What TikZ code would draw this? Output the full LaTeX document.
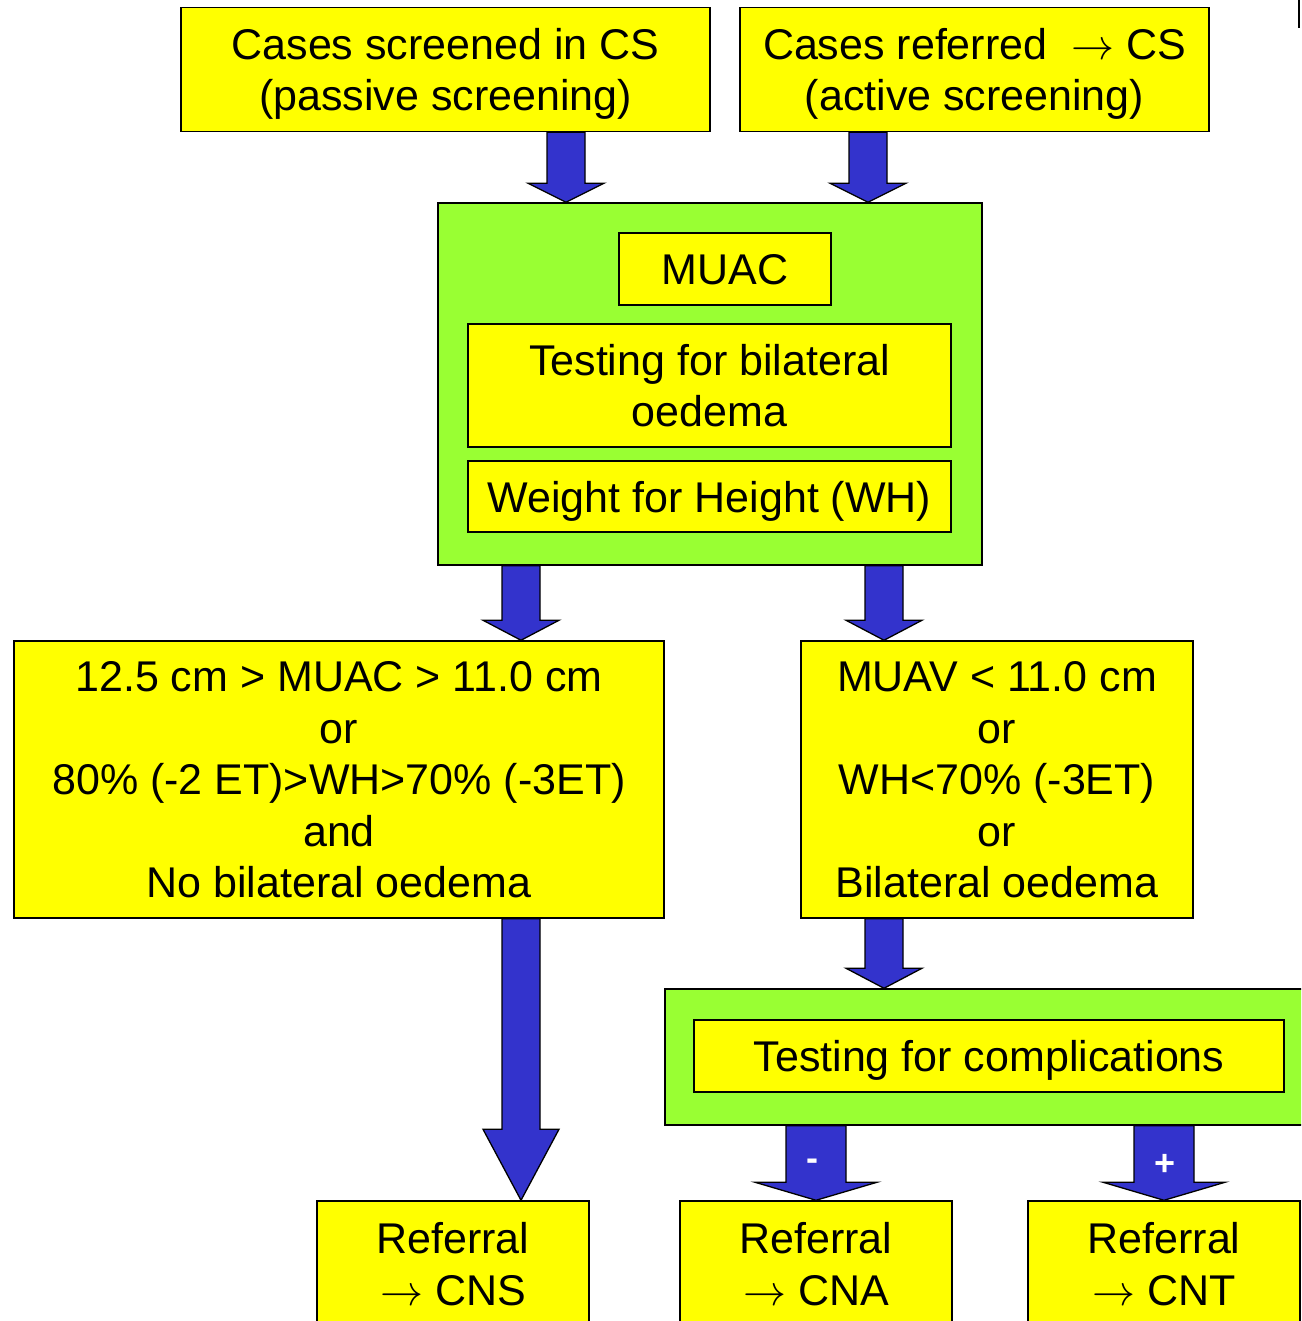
\documentclass[tikz,border=0pt]{standalone}
\usepackage{fix-cm}
\usepackage{fontspec}
\setmainfont{Liberation Sans}
\usetikzlibrary{calc}
\definecolor{boxyellow}{HTML}{FFFF00}
\definecolor{boxgreen}{HTML}{99FF33}
\definecolor{arrowblue}{HTML}{3333CC}
% #1 from node, #2 to node, #3 centre x, #4 half shaft width, #5 half head width, #6 head length
\newcommand\blockarrow[6]{%
  \draw[blockarr] let \p1=(#1.south), \p2=(#2.north) in
   (#3pt-#4pt,\y1) -- (#3pt+#4pt,\y1) -- (#3pt+#4pt,\y2+#6pt) -- (#3pt+#5pt,\y2+#6pt)
   -- (#3pt,\y2) -- (#3pt-#5pt,\y2+#6pt) -- (#3pt-#4pt,\y2+#6pt) -- cycle;}
\newcommand\toarrow{$\rightarrow$}
\tikzset{
  ybox/.style={draw=black, line width=1.5pt, fill=boxyellow, inner sep=0pt, align=center,
    text depth=0pt, font=\fontsize{43}{51.5}\selectfont},
  gbox/.style={draw=black, line width=1.5pt, fill=boxgreen, inner sep=0pt},
  sz/.style 2 args={minimum width=#1pt, minimum height=#2pt},
  blockarr/.style={draw=black, line width=1.3pt, fill=arrowblue, line join=miter},
  sign/.style={text=white, font=\fontsize{36}{36}\selectfont\bfseries, inner sep=0pt}
}
\begin{document}
\begin{tikzpicture}[x=1pt,y=-1pt]
\useasboundingbox (0,0) rectangle (1301,1321);
\clip (0,0) rectangle (1301,1321);
% top boxes
\node[ybox, sz={529}{124}] (passive) at (445.5,69.5) {Cases screened in CS\\(passive screening)};
\node[ybox, sz={469}{124}] (active) at (974.5,69.5) {Cases referred~~\toarrow{} CS\\(active screening)};
% first green group
\node[gbox, sz={544}{362}] (grp1) at (710,384) {};
\node[ybox, sz={212}{72}] (muac) at (725,269) {MUAC};
\node[ybox, sz={483}{123}] (oedema) at (709.5,385.5) {Testing for bilateral\\oedema};
\node[ybox, sz={483}{71}] (wh) at (709.5,496.5) {Weight for Height (WH)};
% middle boxes
\node[ybox, sz={650}{277}] (moderate) at (339,779.5)
  {12.5 cm > MUAC > 11.0 cm\\or\\80\% (-2 ET)>WH>70\% (-3ET)\\and\\No bilateral oedema};
\node[ybox, sz={392}{277}] (severe) at (997,779.5)
  {MUAV < 11.0 cm\\or\\WH<70\% (-3ET)\\or\\Bilateral oedema};
% second green group
\node[gbox, sz={655}{136}] (grp2) at (992.5,1057) {};
\node[ybox, sz={590}{72}] (compl) at (989,1056) {Testing for complications};
% bottom boxes
\node[ybox, sz={272}{126}] (cns) at (453,1264) {Referral\\\toarrow{} CNS};
\node[ybox, sz={272}{126}] (cna) at (816,1264) {Referral\\\toarrow{} CNA};
\node[ybox, sz={272}{126}] (cnt) at (1164,1264) {Referral\\\toarrow{} CNT};
% block arrows
\blockarrow{passive}{grp1}{566}{19}{38}{19}
\blockarrow{active}{grp1}{868}{19}{38}{19}
\blockarrow{grp1}{moderate}{521}{19}{38}{20}
\blockarrow{grp1}{severe}{884}{19}{38}{20}
\blockarrow{moderate}{cns}{521}{19}{38}{71}
\blockarrow{severe}{grp2}{884}{19}{38}{20}
\blockarrow{grp2}{cna}{816}{30}{61}{18}
\blockarrow{grp2}{cnt}{1164}{30}{61}{18}
\node[sign] (minus) at (812,1165) {-};
\node[sign] (plus) at (1165,1165) {+};
% small mark at top right
\draw[line width=2pt] (1299,0) -- (1299,28);
\end{tikzpicture}
\end{document}
